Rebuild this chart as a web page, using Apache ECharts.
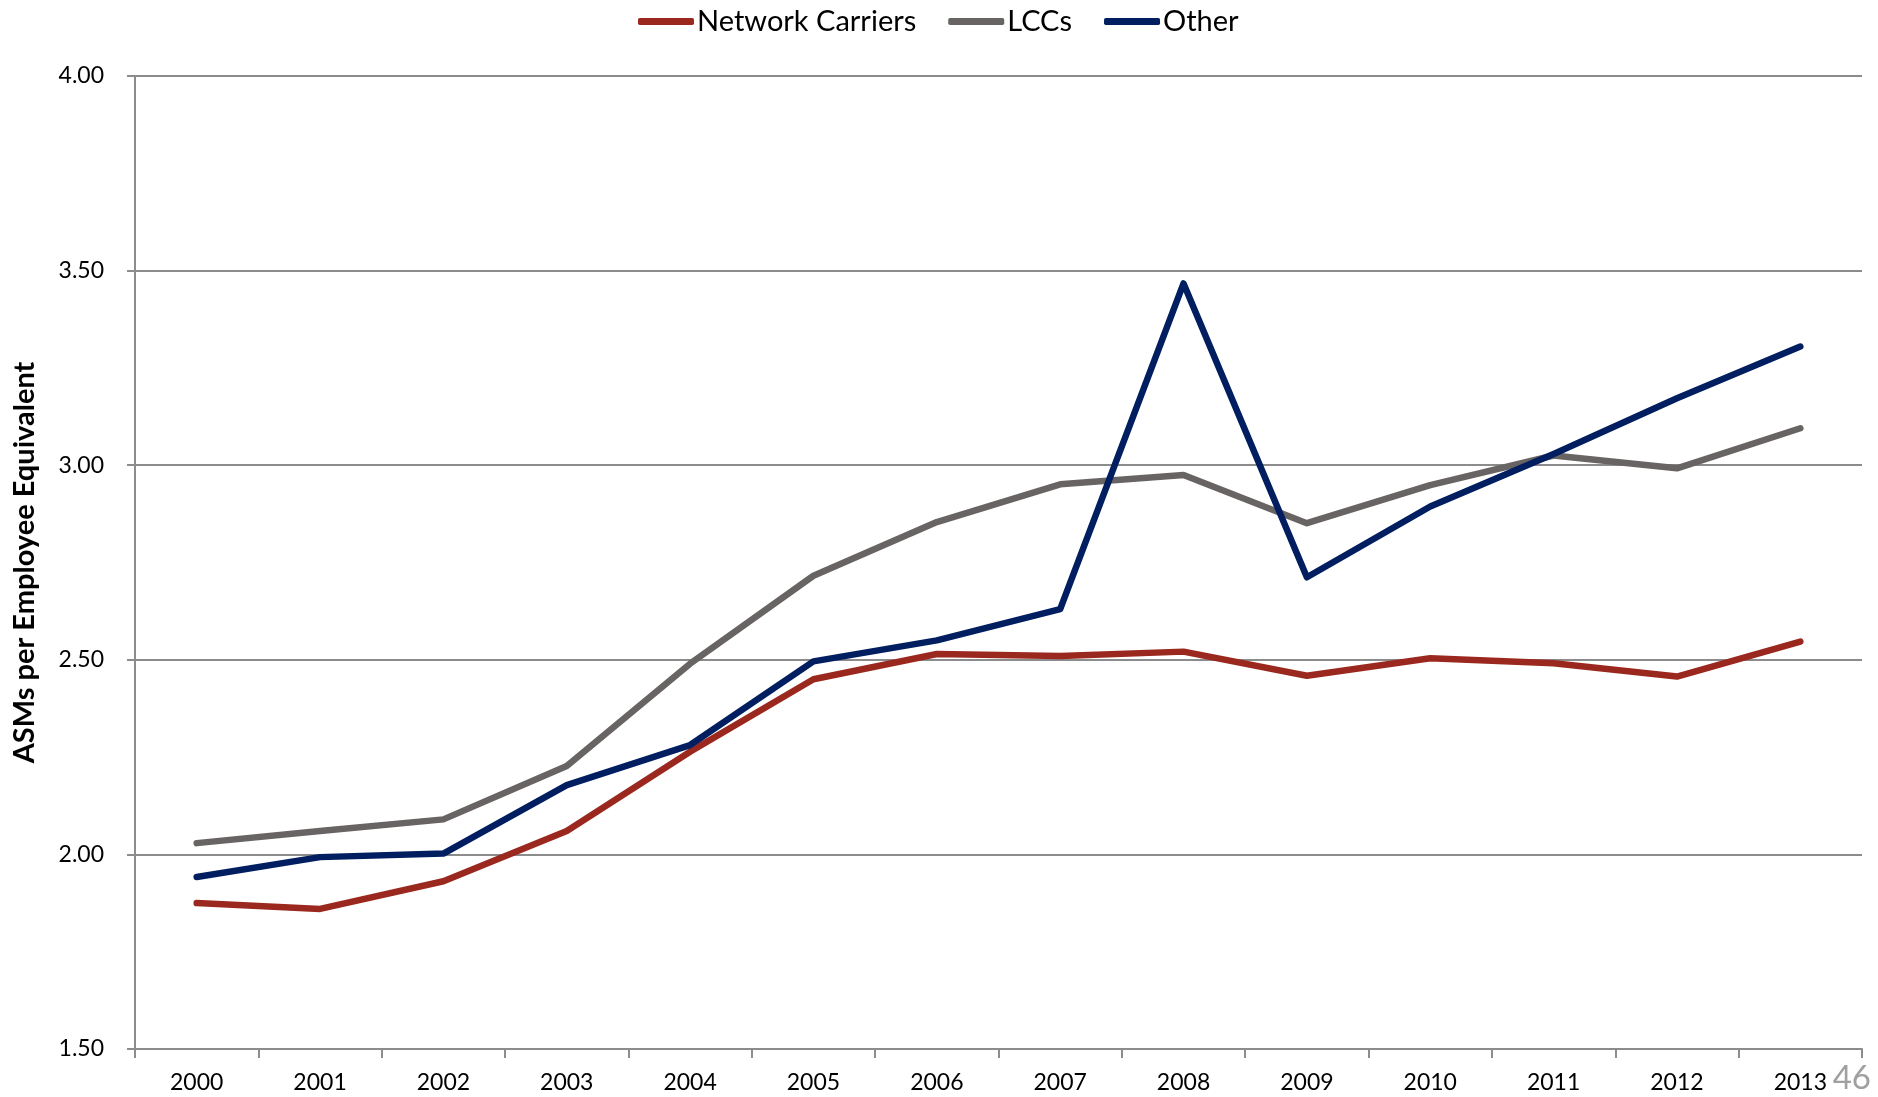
<!DOCTYPE html>
<html>
<head>
<meta charset="utf-8">
<script src="https://cdn.jsdelivr.net/npm/echarts@6/dist/echarts.min.js"></script>
<style>
html,body{margin:0;padding:0;background:#fff;}
#chart{width:1878px;height:1097px;}
</style>
</head>
<body>
<div id="chart"></div>
<script>
const years = ['2000','2001','2002','2003','2004','2005','2006','2007','2008','2009','2010','2011','2012','2013'];
const networkCarriers = [1.875, 1.860, 1.931, 2.060, 2.264, 2.450, 2.515, 2.510, 2.521, 2.459, 2.504, 2.491, 2.457, 2.547];
const lccs = [2.029, 2.060, 2.090, 2.227, 2.490, 2.716, 2.854, 2.951, 2.975, 2.851, 2.949, 3.025, 2.992, 3.095];
const other = [1.942, 1.993, 2.002, 2.178, 2.281, 2.496, 2.550, 2.630, 3.467, 2.712, 2.894, 3.029, 3.172, 3.305];
const yTicks = [1.5, 2.0, 2.5, 3.0, 3.5, 4.0];
const yTitle = 'ASMs per Employee Equivalent';
const pageNumber = '46';

const FONT = 'Lato, "Open Sans", sans-serif';
const chart = echarts.init(document.getElementById('chart'), null, {renderer: 'canvas'});
const mk = (name, data, color) => ({
  name, type: 'line', data, symbol: 'none', smooth: false,
  lineStyle: {color, width: 6.5, cap: 'round', join: 'round'},
  itemStyle: {color}
});
chart.setOption({
  animation: false,
  backgroundColor: '#ffffff',
  grid: {left: 135, right: 16, top: 76, bottom: 48, containLabel: false},
  legend: {
    left: 633, top: 2,
    icon: 'roundRect', itemWidth: 56, itemHeight: 7, itemGap: 32,
    textStyle: {fontFamily: FONT, fontSize: 29, color: '#000', padding: [0,0,0,-2]},
    data: ['Network Carriers', 'LCCs', 'Other']
  },
  xAxis: {
    type: 'category', data: years, boundaryGap: true,
    axisLine: {lineStyle: {color: '#8c8c8c', width: 2}},
    axisTick: {show: true, length: 9, lineStyle: {color: '#8c8c8c', width: 2}},
    axisLabel: {fontFamily: FONT, fontSize: 23, color: '#000', margin: 22, interval: 0}
  },
  yAxis: {
    type: 'value', min: yTicks[0], max: yTicks[yTicks.length-1], interval: 0.5,
    name: yTitle, nameLocation: 'middle', nameGap: 96, nameRotate: 90,
    nameTextStyle: {fontFamily: FONT, fontSize: 29, fontWeight: 'bold', color: '#000'},
    axisLine: {show: true, lineStyle: {color: '#8c8c8c', width: 2}},
    axisTick: {show: true, length: 8, lineStyle: {color: '#8c8c8c', width: 2}},
    axisLabel: {fontFamily: FONT, fontSize: 23, color: '#000', margin: 31,
      formatter: v => v.toFixed(2)},
    splitLine: {show: true, lineStyle: {color: '#8c8c8c', width: 2}}
  },
  graphic: [{
    type: 'text', x: 1871, y: 1078,
    style: {text: pageNumber, font: '33px ' + FONT, fill: '#a0a0a0', textAlign: 'right', textVerticalAlign: 'middle'}
  }],
  series: [
    mk('Network Carriers', networkCarriers, '#9B281E'),
    mk('LCCs', lccs, '#696464'),
    mk('Other', other, '#001E60')
  ]
});
</script>
</body>
</html>
